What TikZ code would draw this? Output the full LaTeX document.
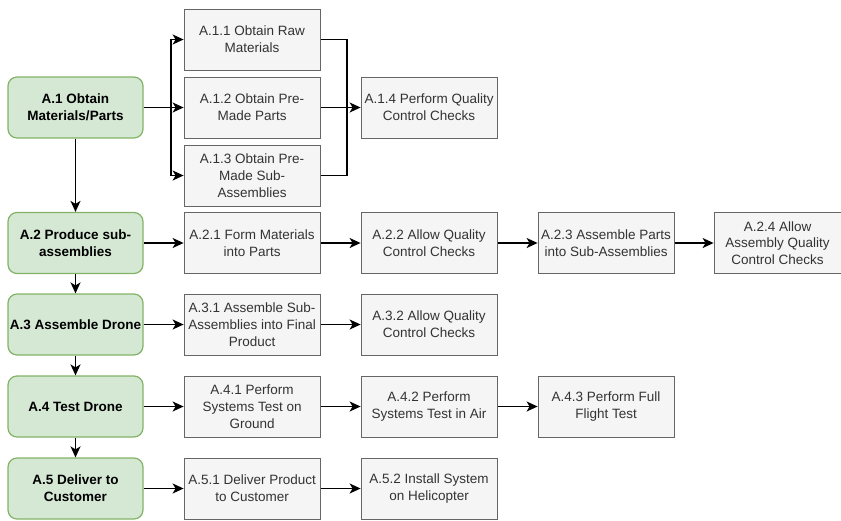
\documentclass[tikz,border=0pt]{standalone}
\usepackage{fontspec}
\setmainfont{Liberation Sans}
\usetikzlibrary{positioning, arrows.meta}
\definecolor{phasefill}{HTML}{D5E8D4}
\definecolor{phasedraw}{HTML}{82B366}
\definecolor{taskfill}{HTML}{F5F5F5}
\definecolor{taskdraw}{HTML}{666666}
\definecolor{tasktext}{HTML}{333333}

\begin{document}
\begin{tikzpicture}[
        x=1pt, y=1pt,
        phase/.style={
            minimum width=135pt, minimum height=61pt,
            align=center, inner sep=1pt,
            font=\bfseries\fontsize{13.5}{16.8}\selectfont,
            rounded corners=9pt,
            fill=phasefill, draw=phasedraw, line width=1.2pt
        },
        task/.style={
            minimum width=136pt, minimum height=61pt,
            align=center, inner sep=1pt,
            font=\fontsize{13.5}{16.8}\selectfont, text=tasktext,
            fill=taskfill, draw=taskdraw, line width=1pt
        },
        link/.style={line width=1.5pt,
            -{Stealth[length=11pt, width=10pt, inset=3pt]}},
        joinline/.style={line width=1.5pt}
    ]
    \useasboundingbox (0,0) rectangle (841,-520);

    % phases
    \node[phase] (a1) at (75.5,-107.5) {A.1 Obtain\\Materials/Parts};
    \node[phase] (a2) at (75.5,-243) {A.2 Produce sub-\\assemblies};
    \node[phase] (a3) at (75.5,-324.5) {A.3 Assemble Drone};
    \node[phase] (a4) at (75.5,-406.5) {A.4 Test Drone};
    \node[phase] (a5) at (75.5,-488.5) {A.5 Deliver to\\Customer};

    % A.1 tasks
    \node[task, right=40pt of a1] (a12) {A.1.2 Obtain Pre-\\Made Parts};
    \node[task, above=6pt of a12] (a11) {A.1.1 Obtain Raw\\Materials};
    \node[task, below=6pt of a12] (a13) {A.1.3 Obtain Pre-\\Made Sub-\\Assemblies};
    \node[task, right=40pt of a12] (a14) {A.1.4 Perform Quality\\Control Checks};

    % A.2 tasks
    \node[task, right=40pt of a2] (a21) {A.2.1 Form Materials\\into Parts};
    \node[task, right=40pt of a21] (a22) {A.2.2 Allow Quality\\Control Checks};
    \node[task, right=40pt of a22] (a23) {A.2.3 Assemble Parts\\into Sub-Assemblies};
    \node[task, minimum width=127pt, right=39pt of a23] (a24)
        {A.2.4 Allow\\Assembly Quality\\Control Checks};

    % A.3 tasks
    \node[task, right=40pt of a3] (a31) {A.3.1 Assemble Sub-\\Assemblies into Final\\Product};
    \node[task, right=40pt of a31] (a32) {A.3.2 Allow Quality\\Control Checks};

    % A.4 tasks
    \node[task, right=40pt of a4] (a41) {A.4.1 Perform\\Systems Test on\\Ground};
    \node[task, right=40pt of a41] (a42) {A.4.2 Perform\\Systems Test in Air};
    \node[task, right=40pt of a42] (a43) {A.4.3 Perform Full\\Flight Test};

    % A.5 tasks
    \node[task, right=40pt of a5] (a51) {A.5.1 Deliver Product\\to Customer};
    \node[task, right=40pt of a51] (a52) {A.5.2 Install System\\on Helicopter};

    % phase chain
    \draw[link] (a1.south) -- (a2.north);
    \draw[link] (a2.south) -- (a3.north);
    \draw[link] (a3.south) -- (a4.north);
    \draw[link] (a4.south) -- (a5.north);

    % A.1 fork and join
    \coordinate (fork) at (171,-107.5);
    \coordinate (join) at (347,-107.5);
    \draw[link] (a1.east) -- (a12.west);
    \draw[link] (fork) |- (a11.west);
    \draw[link] (fork) |- (a13.west);
    \draw[joinline] (a11.east) -| (join);
    \draw[joinline] (a13.east) -| (join);
    \draw[link] (a12.east) -- (a14.west);

    % rows
    \draw[link] (a2.east) -- (a21.west);
    \draw[link] (a21.east) -- (a22.west);
    \draw[link] (a22.east) -- (a23.west);
    \draw[link] (a23.east) -- (a24.west);

    \draw[link] (a3.east) -- (a31.west);
    \draw[link] (a31.east) -- (a32.west);

    \draw[link] (a4.east) -- (a41.west);
    \draw[link] (a41.east) -- (a42.west);
    \draw[link] (a42.east) -- (a43.west);

    \draw[link] (a5.east) -- (a51.west);
    \draw[link] (a51.east) -- (a52.west);

\end{tikzpicture}
\end{document}
